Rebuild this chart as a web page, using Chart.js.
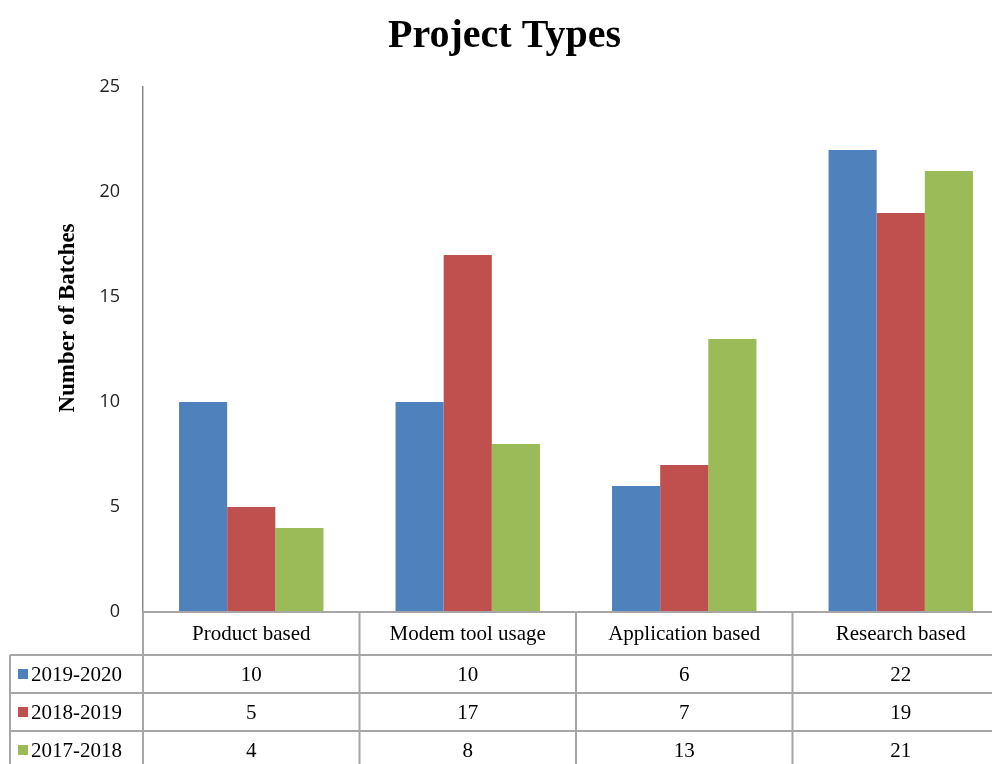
<!DOCTYPE html>
<html>
<head>
<meta charset="utf-8">
<script src="https://cdn.jsdelivr.net/npm/chart.js@4.4.1/dist/chart.umd.min.js"></script>
<style>
  html, body { margin: 0; padding: 0; background: #fff; overflow: hidden; }
  #wrap { width: 992px; height: 764px; overflow: hidden; }
  #wrap canvas { display: block; }
</style>
</head>
<body>
<div id="wrap"><canvas id="projectChart" width="1010" height="764"></canvas></div>
<script>
const categories = ['Product based', 'Modem tool usage', 'Application based', 'Research based'];
const seriesNames = ['2019-2020', '2018-2019', '2017-2018'];
const values2019 = [10, 10, 6, 22];
const values2018 = [5, 17, 7, 19];
const values2017 = [4, 8, 13, 21];
const yTicks = [0, 5, 10, 15, 20, 25];
const seriesColors = ['#4f81bd', '#c0504d', '#9bbb59'];

const serif = '"Liberation Serif", "Times New Roman", serif';
const lineColor = '#a6a6a6';

// data table under the plot, Excel style
const dataTable = {
    id: 'dataTable',
    afterDraw(chart) {
        const ctx = chart.ctx;
        const area = chart.chartArea;
        const x = chart.scales.x;
        const headerH = 43, rowH = 38;
        const top = area.bottom;
        const bottom = chart.height;
        const leftEdge = 10;
        const sets = chart.data.datasets;

        const bounds = [area.left];
        for (let i = 0; i < categories.length - 1; i++) {
            bounds.push((x.getPixelForValue(i) + x.getPixelForValue(i + 1)) / 2);
        }

        ctx.save();
        ctx.strokeStyle = lineColor;
        ctx.lineWidth = 2;
        ctx.beginPath();
        ctx.moveTo(area.left, top);
        ctx.lineTo(area.right, top);
        for (let r = 0; r < sets.length; r++) {
            const y = top + headerH + r * rowH;
            ctx.moveTo(leftEdge, y);
            ctx.lineTo(area.right, y);
        }
        ctx.moveTo(leftEdge, top + headerH);
        ctx.lineTo(leftEdge, bottom);
        bounds.forEach(b => {
            ctx.moveTo(b, top);
            ctx.lineTo(b, bottom);
        });
        ctx.stroke();

        ctx.font = '21px ' + serif;
        ctx.fillStyle = '#000';
        ctx.textBaseline = 'middle';
        sets.forEach((ds, r) => {
            const cy = top + headerH + r * rowH + rowH / 2;
            ctx.fillStyle = ds.backgroundColor;
            ctx.fillRect(18, cy - 5, 10, 10);
            ctx.fillStyle = '#000';
            ctx.textAlign = 'left';
            ctx.fillText(ds.label, 31, cy + 1);
            ctx.textAlign = 'center';
            ds.data.forEach((v, i) => {
                ctx.fillText(String(v), x.getPixelForValue(i), cy + 1);
            });
        });
        ctx.restore();
    }
};

const yAxisTitle = {
    id: 'yAxisTitle',
    afterDraw(chart) {
        const ctx = chart.ctx;
        ctx.save();
        ctx.translate(68, 318);
        ctx.rotate(-Math.PI / 2);
        ctx.font = 'bold 23px ' + serif;
        ctx.fillStyle = '#000';
        ctx.textAlign = 'center';
        ctx.textBaseline = 'middle';
        ctx.fillText('Number of Batches', 0, 0);
        ctx.restore();
    }
};

new Chart(document.getElementById('projectChart'), {
    type: 'bar',
    data: {
        labels: categories,
        datasets: [
            { label: seriesNames[0], data: values2019, backgroundColor: seriesColors[0] },
            { label: seriesNames[1], data: values2018, backgroundColor: seriesColors[1] },
            { label: seriesNames[2], data: values2017, backgroundColor: seriesColors[2] }
        ]
    },
    options: {
        responsive: false,
        animation: false,
        datasets: {
            bar: { categoryPercentage: 0.667, barPercentage: 1, borderWidth: 0 }
        },
        layout: { padding: { top: 0, left: 0, right: 1, bottom: 0 } },
        plugins: {
            legend: { display: false },
            tooltip: { enabled: false },
            title: {
                display: true,
                text: 'Project Types',
                color: '#000',
                font: { family: serif, size: 40, weight: 'bold' },
                padding: { top: 13, bottom: 26 }
            }
        },
        scales: {
            x: {
                grid: { display: false, drawTicks: false },
                border: { display: true, color: lineColor, width: 2 },
                ticks: { color: '#000', font: { family: serif, size: 21 }, padding: 10, maxRotation: 0 },
                afterFit(scale) { scale.height = 152; }
            },
            y: {
                min: 0,
                max: 25,
                grid: { display: false, drawTicks: false },
                border: { display: true, color: '#8c8c8c', width: 1.5 },
                afterBuildTicks(scale) { scale.ticks = yTicks.map(v => ({ value: v })); },
                ticks: { color: '#222', font: { family: '"Open Sans", sans-serif', size: 18 }, padding: 23 },
                afterFit(scale) { scale.width = 143; }
            }
        }
    },
    plugins: [dataTable, yAxisTitle]
});
</script>
</body>
</html>
